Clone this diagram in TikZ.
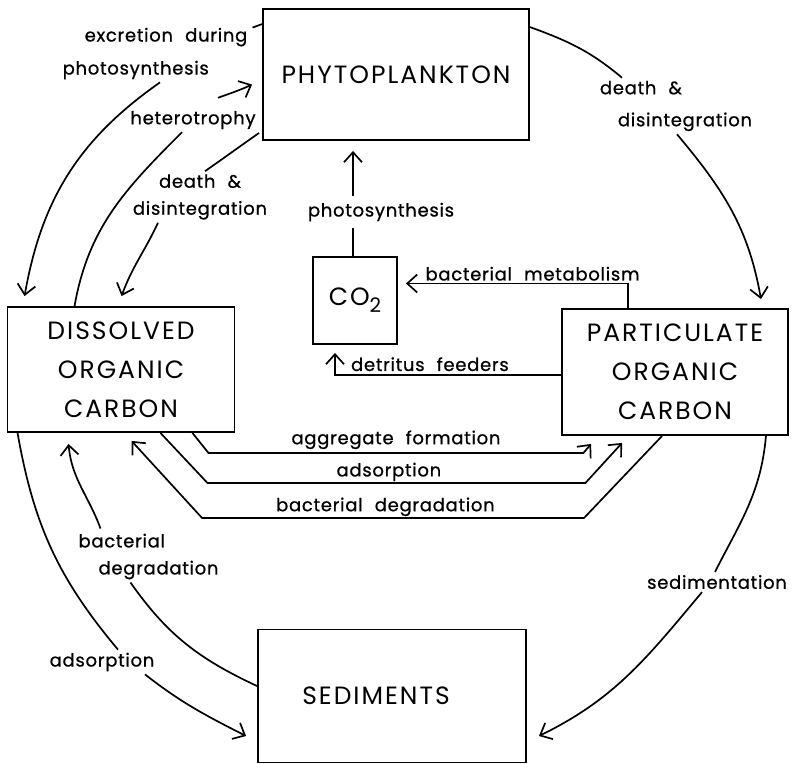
\documentclass[tikz,border=0pt]{standalone}
\usepackage{fontspec}
\setmainfont{Poppins}
\newfontfamily\poolfont{Poppins}[LetterSpace=8]
\newfontfamily\flowfont{Poppins}[LetterSpace=4, WordSpace=2.2, FakeBold=0.8]
\usetikzlibrary{arrows.meta}

\begin{document}
\begin{tikzpicture}[x=1pt, y=1pt,
    pool/.style={draw, line width=1.9pt, align=center, inner sep=0pt,
      font=\poolfont\fontsize{25}{39}\selectfont},
    flow/.style={inner sep=3pt, font=\flowfont\fontsize{18}{27}\selectfont},
    link/.style={line width=1.7pt},
    arr/.style={link, -{Straight Barb[length=10pt, width=18pt, line width=1.7pt]}}]
  \useasboundingbox (0,0) rectangle (792,-763);

  % carbon pools
  \node[pool, minimum width=266pt, minimum height=131pt] (phyto) at (396,-74.5) {PHYTOPLANKTON};
  \node[pool, minimum width=84pt, minimum height=87pt] (co2) at (355,-300.5)
    {CO\raisebox{-7pt}{\fontsize{20}{20}\selectfont 2}};
  \node[pool, minimum width=227pt, minimum height=125pt] (doc) at (121,-369.5) {DISSOLVED\\ORGANIC\\CARBON};
  \node[pool, minimum width=226pt, minimum height=126pt] (poc) at (675,-372) {PARTICULATE\\ORGANIC\\CARBON};
  \node[pool, minimum width=268pt, minimum height=133pt] (sed) at (392,-696) {SEDIMENTS\hspace*{32pt}};

  % flow labels
  \node[flow, align=left] (exc) at (155,-53.5) {\hspace*{22pt}excretion during\\[6pt]photosynthesis};
  \node[flow] (het) at (193,-120) {heterotrophy};
  \node[flow, align=center] (dthl) at (200,-197) {death \&\\disintegration};
  \node[flow, align=left] (dthr) at (676,-106) {death \&\\[5pt]\hspace*{18pt}disintegration};
  \node[flow, inner ysep=7pt] (pht) at (381,-212) {photosynthesis};
  \node[flow, align=left] (bdg) at (148.5,-556.5) {bacterial\\\hspace*{20pt}degradation};
  \node[flow] (ads) at (102,-662) {adsorption};
  \node[flow] (sdm) at (717,-582) {sedimentation};

  % phytoplankton <-> dissolved
  \draw[link] ([shift={(2pt,-3pt)}]exc.north east) -- ([yshift=-16pt]phyto.north west);
  \draw[arr] ([xshift=5pt]exc.south) to[out=215,in=80] ([shift={(18pt,10pt)}]doc.north west);
  \draw[link] ([xshift=68pt]doc.north west) to[out=80,in=225] ([xshift=-11pt]het.south);
  \draw[arr] ([shift={(25pt,10pt)}]het.north) to[out=20,in=205] ([shift={(-10pt,-10pt)}]phyto.west);
  \draw[link] ([shift={(-3pt,8pt)}]phyto.south west) to[out=215,in=35] ([xshift=5pt]dthl.north);
  \draw[arr] ([xshift=-42pt]dthl.south) to[out=245,in=70] ([shift={(115pt,10pt)}]doc.north west);

  % phytoplankton -> particulate
  \draw[link] ([yshift=-19pt]phyto.north east) to[out=-20,in=140] ([xshift=-54pt]dthr.north);
  \draw[arr] ([xshift=1pt]dthr.south) to[out=-50,in=100] ([shift={(-28pt,9pt)}]poc.north east);

  % CO2 exchanges
  \draw[link] ([xshift=-2pt]co2.north) -- ([xshift=-2pt]co2.north |- pht.south);
  \draw[arr] ([xshift=-2pt]co2.north |- pht.north) -- ([shift={(-2pt,-10pt)}]co2.north |- phyto.south);
  \draw[arr] ([xshift=-47pt]poc.north) |- node[flow, pos=0.715, above=2pt, inner sep=0pt] {bacterial metabolism}
    ([shift={(8pt,17pt)}]co2.east);
  \draw[arr] ([yshift=-3pt]poc.west) -| node[flow, pos=0.29, above=3pt, inner sep=0pt] {detritus feeders}
    ([shift={(-20pt,-8pt)}]co2.south);

  % dissolved <-> particulate
  \draw[arr] ([xshift=-43pt]doc.south east) -- ++(16,-20)
    -- node[flow, above=3pt, inner sep=0pt] {aggregate formation} ++(375,0)
    -- ([shift={(30pt,-8pt)}]poc.south west);
  \draw[arr] ([xshift=-75pt]doc.south east) -- ++(47,-50)
    -- node[flow, pos=0.48, above=1pt, inner sep=0pt] {adsorption} ++(378,0)
    -- ([shift={(61pt,-7pt)}]poc.south west);
  \draw[arr] ([xshift=101pt]poc.south west) -- ++(-78,-82)
    -- node[flow, pos=0.52, above=1pt, inner sep=0pt] {bacterial degradation} ++(-382,0)
    -- ([shift={(125pt,-8pt)}]doc.south west);

  % sediments
  \draw[link] ([yshift=10pt]sed.west) to[out=155,in=-55] ([xshift=-18pt]bdg.south);
  \draw[arr] ([shift={(-48pt,2pt)}]bdg.north) to[out=110,in=-85] ([shift={(62pt,-11pt)}]doc.south west);
  \draw[link] ([xshift=11pt]doc.south west) to[out=-80,in=130] ([xshift=16pt]ads.north);
  \draw[arr] ([xshift=43pt]ads.south) to[out=-38,in=153] ([shift={(-11pt,-40pt)}]sed.west);
  \draw[link] ([xshift=-23pt]poc.south east) to[out=-95,in=63] ([xshift=-2pt]sdm.north);
  \draw[arr] ([xshift=-15pt]sdm.south) to[out=-130,in=26] ([shift={(12pt,-40pt)}]sed.east);
\end{tikzpicture}
\end{document}
